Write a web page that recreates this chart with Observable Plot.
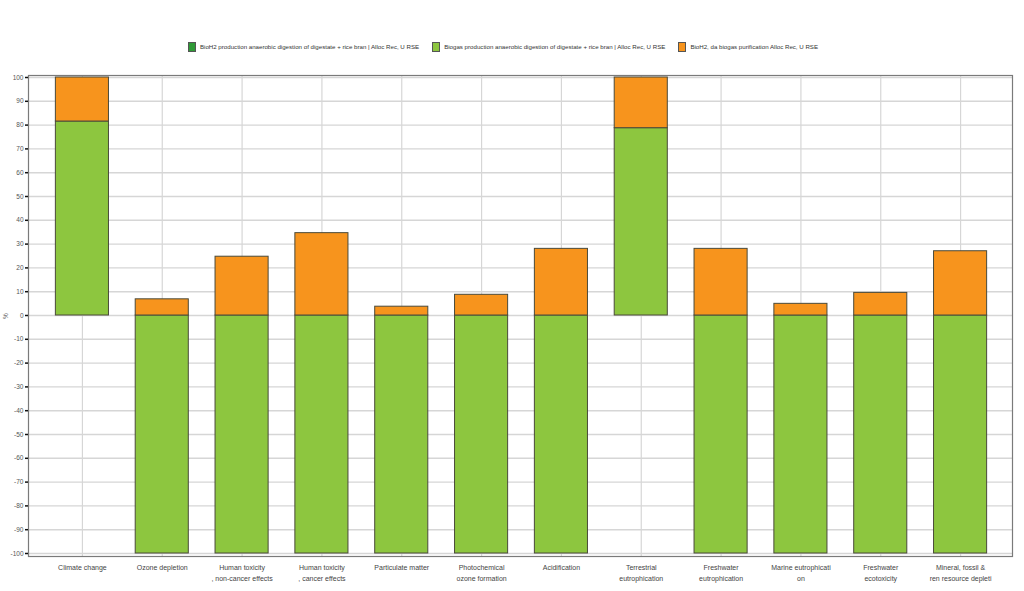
<!DOCTYPE html>
<html>
<head>
<meta charset="utf-8">
<script src="https://cdn.jsdelivr.net/npm/d3@7"></script>
<script src="https://cdn.jsdelivr.net/npm/@observablehq/plot@0.6"></script>
<style>
  body { margin: 0; background: #fff; font-family: "Liberation Sans", Arial, sans-serif; }
  #legend { height: 60px; box-sizing: border-box; padding-top: 33px; display: flex; justify-content: center; gap: 13px; font-size: 6.15px; color: #333; margin-left: -18px; }
  #legend .item { display: flex; align-items: center; gap: 4px; white-space: nowrap; }
  #legend .sw { width: 6px; height: 8px; border: 1px solid #555; display: inline-block; }
</style>
</head>
<body>
<div id="legend"></div>
<div id="chart"></div>
<script>
const categories = [
  "Climate change",
  "Ozone depletion",
  "Human toxicity\n, non-cancer effects",
  "Human toxicity\n, cancer effects",
  "Particulate matter",
  "Photochemical\nozone formation",
  "Acidification",
  "Terrestrial\neutrophication",
  "Freshwater\neutrophication",
  "Marine eutrophicati\non",
  "Freshwater\necotoxicity",
  "Mineral, fossil &\nren resource depleti"
];
const seriesNames = [
  "BioH2 production anaerobic digestion of digestate + rice bran | Alloc Rec, U RSE",
  "Biogas production anaerobic digestion of digestate + rice bran | Alloc Rec, U RSE",
  "BioH2, da biogas purification Alloc Rec, U RSE"
];
const seriesColors = ["#2f9a36", "#8dc63f", "#f7941d"];
const bioH2Production = [0, 0, 0, 0, 0, 0, 0, 0, 0, 0, 0, 0];
const biogasProduction = [81.5, -100, -100, -100, -100, -100, -100, 78.7, -100, -100, -100, -100];
const purification = [18.5, 6.8, 24.7, 34.6, 3.7, 8.7, 28.0, 21.3, 28.0, 4.9, 9.5, 27.0];
const yTicks = [-100, -90, -80, -70, -60, -50, -40, -30, -20, -10, 0, 10, 20, 30, 40, 50, 60, 70, 80, 90, 100];

const seriesValues = [bioH2Production, biogasProduction, purification];
const data = [];
seriesValues.forEach((vals, s) => vals.forEach((v, i) => data.push({category: categories[i], series: seriesNames[s], value: v})));

// legend
const legend = document.getElementById("legend");
seriesNames.forEach((n, i) => {
  const it = document.createElement("span");
  it.className = "item";
  it.innerHTML = `<span class="sw" style="background:${seriesColors[i]}"></span><span>${n}</span>`;
  legend.appendChild(it);
});

const chart = Plot.plot({
  width: 1024,
  height: 531,
  marginTop: 15,
  marginBottom: 35,
  marginLeft: 28,
  marginRight: 12,
  style: {fontFamily: '"Liberation Sans", Arial, sans-serif', fontSize: "7px", color: "#444", background: "#fff"},
  x: {domain: categories, paddingInner: 0.335, paddingOuter: 0.1675, insetLeft: 14, insetRight: 12, round: false, label: null},
  y: {domain: [-100, 100], insetTop: 2, insetBottom: 3, label: "%"},
  color: {domain: seriesNames, range: seriesColors},
  marks: [
    Plot.gridY(yTicks, {stroke: "#d6d6d6", strokeOpacity: 1, strokeWidth: 1.4}),
    Plot.gridX({stroke: "#d6d6d6", strokeOpacity: 1, strokeWidth: 1.2}),
    Plot.frame({stroke: "#7a7a7a", strokeWidth: 1.2}),
    Plot.barY(data, Plot.stackY({x: "category", y: "value", fill: "series", stroke: "#4a4a3a", strokeWidth: 1})),
    Plot.axisY({ticks: yTicks, tickFormat: d => String(d), tickSize: 3, tickPadding: 2, line: true, stroke: "#111", strokeWidth: 1.5, fill: "#555", fontSize: 6.5, label: "%", labelAnchor: "center", labelArrow: "none", labelOffset: 25}),
    Plot.axisX({tickSize: 0, tickPadding: 6, line: true, stroke: "#111", strokeWidth: 1.8, fill: "#444", fontSize: 7, lineHeight: 1.55, label: null})
  ]
});
document.getElementById("chart").appendChild(chart);
</script>
</body>
</html>
